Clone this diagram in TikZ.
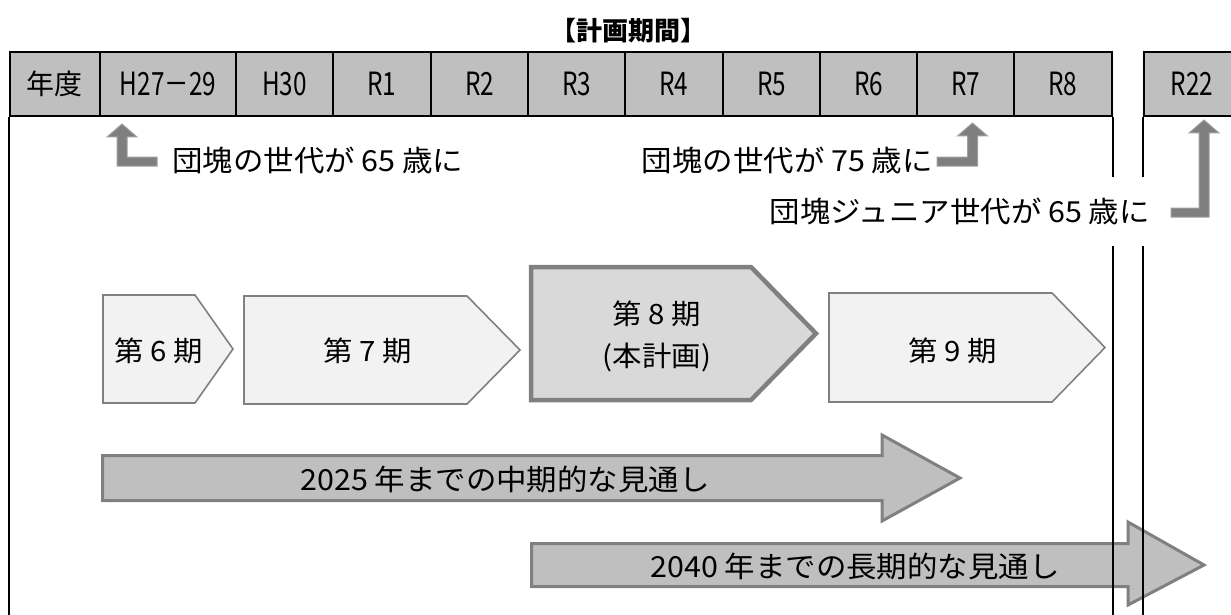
\documentclass[tikz,border=0pt]{standalone}
\usepackage{fontspec}
\setmainfont{Noto Sans CJK JP}
\newfontfamily\hdrfont[FakeStretch=0.76]{Noto Sans CJK JP}
\newfontfamily\widefont[FakeStretch=1.05]{Noto Sans CJK JP}
\definecolor{hdrgray}{HTML}{BFBFBF}
\definecolor{edgegray}{HTML}{808080}
\definecolor{lightfill}{HTML}{F2F2F2}
\definecolor{midfill}{HTML}{D9D9D9}
\definecolor{bararrow}{HTML}{BFBFBF}
\definecolor{bentfill}{HTML}{7F7F7F}
\definecolor{bentedge}{HTML}{A0A0A0}
\tikzset{
  hdrcell/.style={draw=black, line width=1.6pt, fill=hdrgray, minimum height=64pt, inner sep=0pt,
    font=\hdrfont\fontsize{32}{36}\selectfont},
  gridline/.style={draw=black, line width=1.6pt},
  chev/.style={draw=edgegray, line width=1.6pt, fill=lightfill, line join=miter},
  chevmain/.style={draw=edgegray, line width=4.5pt, fill=midfill, line join=miter},
  bararrowstyle/.style={draw=edgegray, line width=3pt, fill=bararrow, line join=miter},
  bent/.style={draw=bentedge, line width=1pt, fill=bentfill},
  lbl/.style={inner sep=0pt, font=\widefont\fontsize{29}{33}\selectfont},
  chevtext/.style={inner sep=0pt, font=\widefont\fontsize{28}{42}\selectfont, align=center},
}
\begin{document}
\begin{tikzpicture}[x=1pt,y=-1pt]
\useasboundingbox (0,0) rectangle (1231,615);

% title
\node[inner sep=0pt, font=\bfseries\fontsize{26}{30}\selectfont] (title) at (628,31) {【計画期間】};

% header row
\node[hdrcell, minimum width=90pt, font=\fontsize{28}{32}\selectfont] (c0) at (55,84) {年度};
\node[hdrcell, minimum width=136pt] (c1) at (168,84) {H27－29};
\node[hdrcell, minimum width=97pt] (c2) at (284.5,84) {H30};
\node[hdrcell, minimum width=98pt] (c3) at (382,84) {R1};
\node[hdrcell, minimum width=97pt] (c4) at (479.5,84) {R2};
\node[hdrcell, minimum width=97pt] (c5) at (576.5,84) {R3};
\node[hdrcell, minimum width=98pt] (c6) at (674,84) {R4};
\node[hdrcell, minimum width=97pt] (c7) at (771.5,84) {R5};
\node[hdrcell, minimum width=97pt] (c8) at (868.5,84) {R6};
\node[hdrcell, minimum width=97pt] (c9) at (965.5,84) {R7};
\node[hdrcell, minimum width=98pt] (c10) at (1063,84) {R8};
\node[hdrcell, minimum width=96pt] (c11) at (1192,84) {R22};

% bent arrows
\draw[bent] (122,124) -- (137,137) -- (127,137) -- (127,157) -- (157,157) -- (157,166)
  -- (117,166) -- (117,137) -- (107,137) -- cycle;
\draw[bent] (972.5,123) -- (987.5,136) -- (977.5,136) -- (977.5,166) -- (937,166) -- (937,157)
  -- (967.5,157) -- (967.5,136) -- (957.5,136) -- cycle;
\draw[bent] (1204,120) -- (1219,133) -- (1209,133) -- (1209,217) -- (1171,217) -- (1171,208)
  -- (1199,208) -- (1199,133) -- (1189,133) -- cycle;

% period chevrons
\draw[chev] (103,295) -- (195,295) -- (233,349) -- (195,403) -- (103,403) -- cycle;
\draw[chev] (244,296) -- (467,296) -- (520,350) -- (467,404) -- (244,404) -- cycle;
\draw[chevmain] (531,267) -- (751,267) -- (816,333.5) -- (751,400) -- (531,400) -- cycle;
\draw[chev] (829,293) -- (1052,293) -- (1105,347.5) -- (1052,402) -- (829,402) -- cycle;
\node[chevtext] (p6) at (159,351) {第 6 期};
\node[chevtext] (p7) at (368,351) {第 7 期};
\node[chevtext] (p8) at (657,336) {第 8 期\\(本計画)};
\node[chevtext] (p9) at (953,351) {第 9 期};

% outlook arrows
\draw[bararrowstyle] (102.5,455.5) -- (882,455.5) -- (882,435) -- (960,478) -- (882,521) -- (882,500.5)
  -- (102.5,500.5) -- cycle;
\draw[bararrowstyle] (531.5,543.5) -- (1128,543.5) -- (1128,522) -- (1204,565) -- (1128,605) -- (1128,586.5)
  -- (531.5,586.5) -- cycle;
\node[lbl] (mid) at (505,479) {2025 年までの中期的な見通し};
\node[lbl] (long) at (855,566) {2040 年までの長期的な見通し};

% vertical grid lines
\coordinate (bl) at (10,615);
\draw[gridline] (c0.south west) -- (c0.south west |- bl);
\draw[gridline] (c10.south east) -- (c10.south east |- bl);
\draw[gridline] (c11.south west) -- (c11.south west |- bl);

% labels
\node[lbl, anchor=west] (g65) at (172,160) {団塊の世代が 65 歳に};
\node[lbl, anchor=east] (g75) at (933,160) {団塊の世代が 75 歳に};
\node[lbl, anchor=east, fill=white, inner xsep=3pt, minimum height=69pt] (j65) at (1153,211) {団塊ジュニア世代が 65 歳に};
\end{tikzpicture}
\end{document}
